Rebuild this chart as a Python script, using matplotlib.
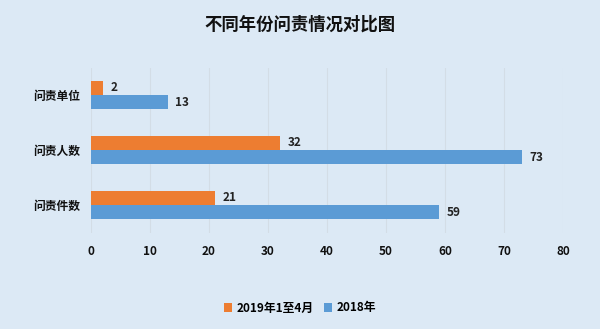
import matplotlib
matplotlib.use("Agg")
import matplotlib.pyplot as plt
import numpy as np

plt.rcParams['font.family'] = ['Noto Sans CJK SC', 'DejaVu Sans']

categories = ["问责件数", "问责人数", "问责单位"]
series_2019 = [21, 32, 2]
series_2018 = [59, 73, 13]
label_2019 = "2019年1至4月"
label_2018 = "2018年"
title = "不同年份问责情况对比图"
xticks = [0, 10, 20, 30, 40, 50, 60, 70, 80]

bg = "#dce9f5"
c_orange = "#ED7D31"
c_blue = "#5B9BD5"

fig = plt.figure(figsize=(6, 3.29), dpi=100, facecolor=bg)
ax = fig.add_axes([91/600, 1-232.5/329, (563-91)/600, 165/329])
ax.set_facecolor(bg)

y = np.arange(len(categories))
h = 0.255
b1 = ax.barh(y + h/2, series_2019, height=h, color=c_orange, label=label_2019)
b2 = ax.barh(y - h/2, series_2018, height=h, color=c_blue, label=label_2018)

for bars, vals in ((b1, series_2019), (b2, series_2018)):
    for rect, v in zip(bars, vals):
        ax.text(rect.get_width() + 1.3, rect.get_y() + rect.get_height()/2, str(v),
                va='center', ha='left', fontsize=8.5, fontweight='bold', color='#222222')

ax.set_xlim(0, 80)
ax.set_ylim(-0.5, 2.5)
ax.set_xticks(xticks)
ax.set_yticks(y)
ax.set_yticklabels(categories)
ax.tick_params(axis='both', length=0, labelsize=8.5, colors='#111111')
for lab in ax.get_xticklabels() + ax.get_yticklabels():
    lab.set_fontweight('bold')
ax.tick_params(axis='x', pad=9)
ax.tick_params(axis='y', pad=8)
ax.grid(axis='x', color='#d3dde6', linewidth=0.8)
ax.set_axisbelow(True)
for s in ax.spines.values():
    s.set_visible(False)

fig.text(0.5, 1-25/329, title, ha='center', va='center', fontsize=12.5, fontweight='bold', color='#111111')

handles = [b1, b2]
leg = fig.legend(handles, [label_2019, label_2018], loc='center', bbox_to_anchor=(0.5, 1-308/329),
                 ncol=2, frameon=False, fontsize=8.5, handlelength=0.7, handleheight=0.7,
                 handletextpad=0.4, columnspacing=0.8)
for t in leg.get_texts():
    t.set_fontweight('bold')

fig.savefig("out.png", dpi=100, facecolor=bg)
